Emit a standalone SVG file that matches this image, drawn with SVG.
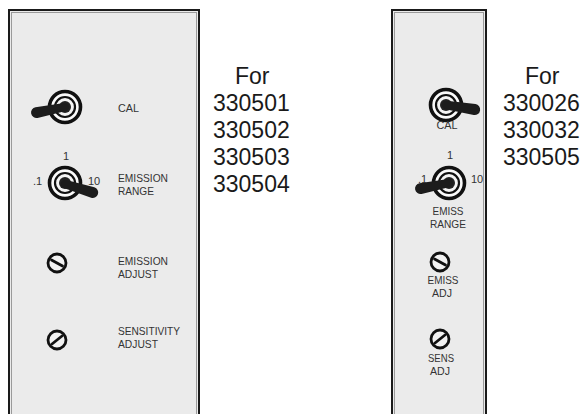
<svg xmlns="http://www.w3.org/2000/svg" xmlns:xlink="http://www.w3.org/1999/xlink" width="585" height="414" viewBox="0 0 585 414">
<style>
.panel{fill:#ebebeb;stroke:#1a1a1a;stroke-width:2}
.inner{fill:none;stroke:#9a9a9a;stroke-width:1}
.lbl{font-family:"Liberation Sans",Arial,sans-serif;font-size:10.5px;fill:#333}
.sc{font-family:"Liberation Sans",Arial,sans-serif;font-size:11px;fill:#333}
.big{font-family:"Liberation Sans",Arial,sans-serif;font-size:23px;fill:#1a1a1a}
.ring1{fill:#fafafa;stroke:#111;stroke-width:3.6}
.ring2{fill:#f4f4f4;stroke:#111;stroke-width:2.2}
.nut{fill:#222}
.lever{fill:#1c1c1c}
.screw{fill:#f2f2f2;stroke:#111;stroke-width:2.8}
.slot{stroke:#111;stroke-width:2.8;stroke-linecap:round}
.m{text-anchor:middle}
</style>
<defs>
<g id="toggle">
<circle class="ring1" r="15.5"/>
<circle class="ring2" r="10"/>
<circle class="nut" r="6"/>
</g>
<path id="lever" class="lever" d="M0,-4.2 L29,-5.5 A5.5,5.5 0 0 1 29,5.5 L0,4.2 A4.2,4.2 0 0 1 0,-4.2 Z"/>
<circle id="screw" class="screw" r="9"/>
</defs>

<g id="left-panel">
<rect class="panel" x="9" y="10" width="190" height="420"/>
<rect class="inner" x="11.5" y="12.5" width="185" height="420"/>
</g>
<g id="right-panel">
<rect class="panel" x="392" y="10" width="94" height="420"/>
<rect class="inner" x="394.5" y="12.5" width="89" height="420"/>
</g>

<g id="left-cal">
<use xlink:href="#toggle" x="65" y="107"/>
<use xlink:href="#lever" transform="translate(65,107) rotate(169)"/>
<text class="lbl" x="118" y="112" textLength="21" lengthAdjust="spacingAndGlyphs">CAL</text>
</g>
<g id="left-emission-range">
<use xlink:href="#toggle" x="65" y="183"/>
<use xlink:href="#lever" transform="translate(65,184) rotate(17)"/>
<text class="sc m" x="66" y="160">1</text>
<text class="sc" x="33" y="185">.1</text>
<text class="sc" x="88" y="185">10</text>
<text class="lbl" x="118" y="182" textLength="50" lengthAdjust="spacingAndGlyphs">EMISSION</text>
<text class="lbl" x="118" y="194.5" textLength="36" lengthAdjust="spacingAndGlyphs">RANGE</text>
</g>
<g id="left-emission-adjust">
<use xlink:href="#screw" x="57" y="263"/>
<line class="slot" x1="51.5" y1="260" x2="62.5" y2="266"/>
<text class="lbl" x="118" y="265" textLength="50" lengthAdjust="spacingAndGlyphs">EMISSION</text>
<text class="lbl" x="118" y="277.5" textLength="40" lengthAdjust="spacingAndGlyphs">ADJUST</text>
</g>
<g id="left-sensitivity-adjust">
<use xlink:href="#screw" x="57" y="340"/>
<line class="slot" x1="52" y1="344" x2="62" y2="336"/>
<text class="lbl" x="118" y="335" textLength="62" lengthAdjust="spacingAndGlyphs">SENSITIVITY</text>
<text class="lbl" x="118" y="347.5" textLength="40" lengthAdjust="spacingAndGlyphs">ADJUST</text>
</g>

<g id="left-models">
<text class="big" x="235" y="84">For</text>
<text class="big" x="213" y="111">330501</text>
<text class="big" x="213" y="138">330502</text>
<text class="big" x="213" y="165">330503</text>
<text class="big" x="213" y="192">330504</text>
</g>

<g id="right-cal">
<use xlink:href="#toggle" x="446" y="105"/>
<use xlink:href="#lever" transform="translate(446,105) rotate(9)"/>
<text class="lbl m" x="447" y="129" textLength="21" lengthAdjust="spacingAndGlyphs">CAL</text>
</g>
<g id="right-emiss-range">
<use xlink:href="#toggle" x="449" y="183"/>
<use xlink:href="#lever" transform="translate(449,183) rotate(169)"/>
<text class="sc m" x="450" y="159">1</text>
<text class="sc" x="418" y="183">.1</text>
<text class="sc" x="471" y="183">10</text>
<text class="lbl m" x="448" y="215" textLength="31" lengthAdjust="spacingAndGlyphs">EMISS</text>
<text class="lbl m" x="448" y="227.5" textLength="36" lengthAdjust="spacingAndGlyphs">RANGE</text>
</g>
<g id="right-emiss-adj">
<use xlink:href="#screw" x="440" y="262"/>
<line class="slot" x1="434.5" y1="259" x2="445.5" y2="265"/>
<text class="lbl m" x="443" y="284" textLength="31" lengthAdjust="spacingAndGlyphs">EMISS</text>
<text class="lbl m" x="442" y="296.5" textLength="20" lengthAdjust="spacingAndGlyphs">ADJ</text>
</g>
<g id="right-sens-adj">
<use xlink:href="#screw" x="440" y="339"/>
<line class="slot" x1="435" y1="343" x2="445" y2="335"/>
<text class="lbl m" x="441" y="362" textLength="26" lengthAdjust="spacingAndGlyphs">SENS</text>
<text class="lbl m" x="440" y="374.5" textLength="20" lengthAdjust="spacingAndGlyphs">ADJ</text>
</g>

<g id="right-models">
<text class="big" x="525" y="84">For</text>
<text class="big" x="503" y="111">330026</text>
<text class="big" x="503" y="138">330032</text>
<text class="big" x="503" y="165">330505</text>
</g>
</svg>
